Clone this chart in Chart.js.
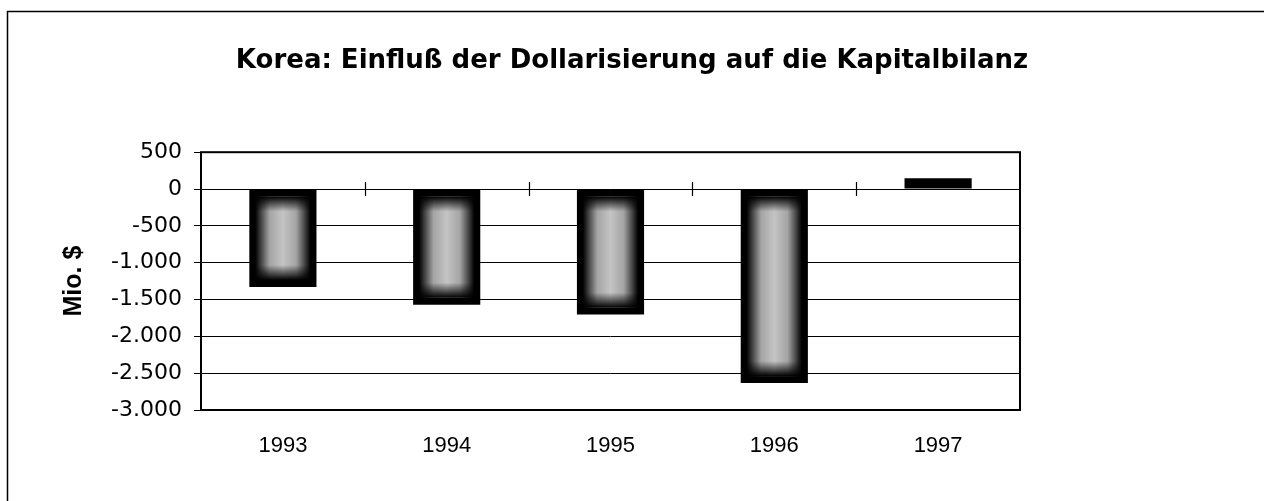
<!DOCTYPE html>
<html>
<head>
<meta charset="utf-8">
<script src="https://cdn.jsdelivr.net/npm/chart.js@4"></script>
<style>
  html, body { margin: 0; padding: 0; background: #fff; }
  #wrap { width: 1264px; height: 501px; position: relative; }
</style>
</head>
<body>
<div id="wrap"><canvas id="c" width="1264" height="501"></canvas></div>
<script>
// ---- data ----
const categories = ['1993', '1994', '1995', '1996', '1997'];
const values = [-1330, -1570, -1705, -2635, 145];
const yTicks = [500, 0, -500, -1000, -1500, -2000, -2500, -3000];
const chartTitle = 'Korea: Einfluß der Dollarisierung auf die Kapitalbilanz';
const yTitle = 'Mio. $';

function fmtDE(v) {
  const s = Math.abs(v).toString().replace(/\B(?=(\d{3})+(?!\d))/g, '.');
  return (v < 0 ? '-' : '') + s;
}

const FONT = '"Liberation Sans", Arial, sans-serif';
const WIDE = '"DejaVu Sans", "Liberation Sans", sans-serif';

const framePlugin = {
  id: 'frame',
  beforeDraw(chart) {
    const ctx = chart.ctx;
    ctx.save();
    ctx.fillStyle = '#fff';
    ctx.fillRect(0, 0, chart.width, chart.height);
    ctx.strokeStyle = '#000';
    ctx.lineWidth = 1.5;
    ctx.beginPath();
    ctx.moveTo(7.5, chart.height);
    ctx.lineTo(7.5, 11.5);
    ctx.lineTo(chart.width, 11.5);
    ctx.stroke();
    ctx.restore();
  }
};

const barTexture = {
  id: 'barTexture',
  afterDatasetsDraw(chart) {
    const ctx = chart.ctx;
    const meta = chart.getDatasetMeta(0);
    meta.data.forEach(bar => {
      const p = bar.getProps(['x', 'y', 'base', 'width'], true);
      const top = Math.min(p.y, p.base), bottom = Math.max(p.y, p.base);
      const h = bottom - top;
      if (h < 40) return;
      const left = p.x - p.width / 2;
      const ix = left + 6, iw = p.width - 12, iy = top + 7, ih = h - 14;
      ctx.save();
      const g = ctx.createLinearGradient(ix, 0, ix + iw, 0);
      g.addColorStop(0, '#000');
      g.addColorStop(0.12, '#4e4e4e');
      g.addColorStop(0.26, '#a4a4a4');
      g.addColorStop(0.5, '#c4c4c4');
      g.addColorStop(0.74, '#a4a4a4');
      g.addColorStop(0.88, '#4e4e4e');
      g.addColorStop(1, '#000');
      ctx.fillStyle = g;
      ctx.fillRect(ix, iy, iw, ih);
      const f = Math.min(0.4, 15 / ih);
      const v = ctx.createLinearGradient(0, iy, 0, iy + ih);
      v.addColorStop(0, 'rgba(0,0,0,1)');
      v.addColorStop(f, 'rgba(0,0,0,0)');
      v.addColorStop(1 - f, 'rgba(0,0,0,0)');
      v.addColorStop(1, 'rgba(0,0,0,1)');
      ctx.fillStyle = v;
      ctx.fillRect(ix, iy, iw, ih);
      ctx.restore();
    });
  }
};

const plotDecor = {
  id: 'plotDecor',
  afterDraw(chart) {
    const ctx = chart.ctx;
    const a = chart.chartArea;
    const xs = chart.scales.x, ys = chart.scales.y;
    ctx.save();
    ctx.strokeStyle = '#000';
    ctx.lineWidth = 2;
    ctx.strokeRect(a.left, a.top, a.right - a.left, a.bottom - a.top);
    const y0 = ys.getPixelForValue(0);
    ctx.lineWidth = 1.2;
    ctx.beginPath();
    for (let i = 0; i < categories.length - 1; i++) {
      const x = Math.round((xs.getPixelForValue(i) + xs.getPixelForValue(i + 1)) / 2) + 0.5;
      ctx.moveTo(x, y0 - 7);
      ctx.lineTo(x, y0 + 7);
    }
    ctx.stroke();
    ctx.restore();
  }
};

new Chart(document.getElementById('c'), {
  type: 'bar',
  data: {
    labels: categories,
    datasets: [{
      data: values,
      backgroundColor: '#000',
      borderWidth: 0,
      categoryPercentage: 1,
      barPercentage: 0.41
    }]
  },
  options: {
    responsive: false,
    animation: false,
    events: [],
    layout: { padding: { left: 0, right: 0, top: 0, bottom: 0 } },
    plugins: {
      legend: { display: false },
      tooltip: { enabled: false },
      title: {
        display: true,
        text: chartTitle,
        color: '#000',
        font: { family: WIDE, size: 26, weight: 'bold' },
        padding: { top: 46, bottom: 75 }
      }
    },
    scales: {
      x: {
        grid: { display: false },
        border: { display: false },
        ticks: {
          color: '#000',
          font: { family: FONT, size: 22 },
          padding: 15,
          maxRotation: 0
        },
        afterFit(scale) { scale.height = 91; }
      },
      y: {
        min: -3000,
        max: 500,
        afterBuildTicks(scale) { scale.ticks = yTicks.map(v => ({ value: v })); },
        grid: { color: '#000', lineWidth: 1, tickLength: 7, drawTicks: true },
        border: { display: false },
        ticks: {
          color: '#000',
          font: { family: WIDE, size: 22 },
          padding: 12,
          callback: v => fmtDE(v)
        },
        title: {
          display: true,
          text: yTitle,
          color: '#000',
          font: { family: FONT, size: 25, weight: 'bold' },
          padding: { top: 59, bottom: 0 }
        },
        afterFit(scale) { scale.width = 201; }
      },
      y2: {
        position: 'right',
        min: 0,
        max: 1,
        grid: { display: false, drawTicks: false },
        border: { display: false },
        ticks: { display: false },
        afterFit(scale) { scale.width = 244; }
      }
    }
  },
  plugins: [framePlugin, barTexture, plotDecor]
});
</script>
</body>
</html>
